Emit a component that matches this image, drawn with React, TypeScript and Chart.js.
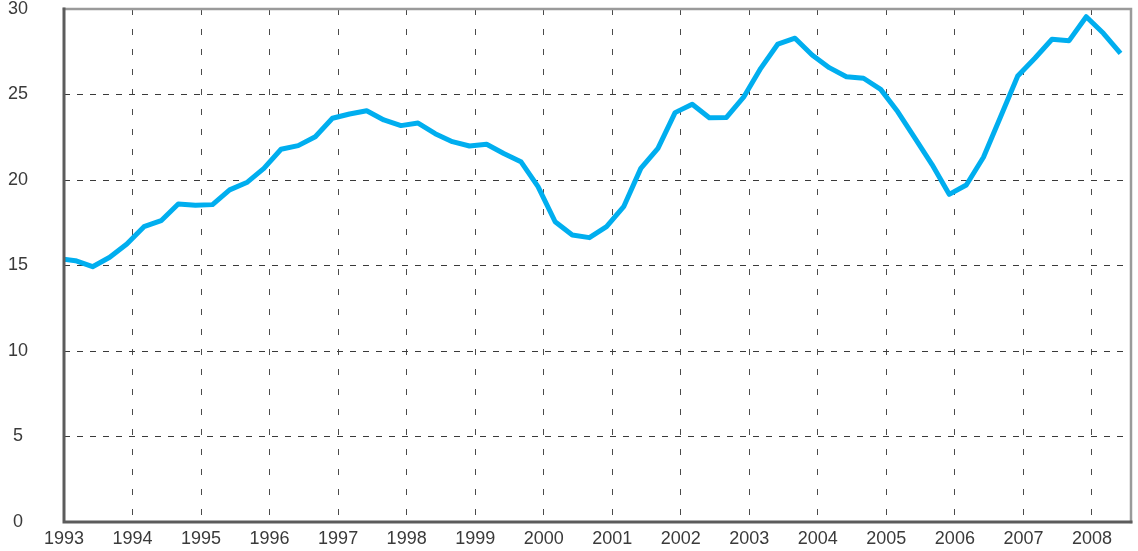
import React, { useEffect, useRef } from "react";
import { Chart, registerables } from "chart.js";

Chart.register(...registerables);

// Decimal-year positions of the quarterly observations
const dates: number[] = [
  1992.917, 1993.167, 1993.417, 1993.667, 1993.917,
  1994.167, 1994.417, 1994.667, 1994.917,
  1995.167, 1995.417, 1995.667, 1995.917,
  1996.167, 1996.417, 1996.667, 1996.917,
  1997.167, 1997.417, 1997.667, 1997.917,
  1998.167, 1998.417, 1998.667, 1998.917,
  1999.167, 1999.417, 1999.667, 1999.917,
  2000.167, 2000.417, 2000.667, 2000.917,
  2001.167, 2001.417, 2001.667, 2001.917,
  2002.167, 2002.417, 2002.667, 2002.917,
  2003.167, 2003.417, 2003.667, 2003.917,
  2004.167, 2004.417, 2004.667, 2004.917,
  2005.167, 2005.417, 2005.667, 2005.917,
  2006.167, 2006.417, 2006.667, 2006.917,
  2007.167, 2007.417, 2007.667, 2007.917,
  2008.167, 2008.417,
];

const values: number[] = [
  15.4, 15.28, 14.93, 15.48, 16.26,
  17.27, 17.62, 18.6, 18.52,
  18.56, 19.42, 19.85, 20.68,
  21.8, 22.01, 22.53, 23.61,
  23.86, 24.05, 23.51, 23.18,
  23.33, 22.71, 22.24, 21.99,
  22.09, 21.55, 21.07, 19.61,
  17.56, 16.78, 16.63, 17.27,
  18.44, 20.68, 21.85, 23.94,
  24.43, 23.64, 23.66, 24.84,
  26.53, 27.95, 28.29, 27.31,
  26.57, 26.04, 25.95, 25.3,
  23.99, 22.45, 20.9, 19.16,
  19.71, 21.33, 23.7, 26.08,
  27.12, 28.23, 28.15, 29.55,
  28.58, 27.41,
];

const yearTicks: number[] = [
  1993, 1994, 1995, 1996, 1997, 1998, 1999, 2000,
  2001, 2002, 2003, 2004, 2005, 2006, 2007, 2008,
];

const xMin = 1993;
const xMax = 2008.57;
const yMin = 0;
const yMax = 30;
const yStep = 5;

const frame = {
  id: "frame",
  afterDraw(chart: any) {
    const { ctx, chartArea } = chart;
    const { left, right, top, bottom } = chartArea;
    ctx.save();
    ctx.lineCap = "square";
    ctx.strokeStyle = "#9a9a9a";
    ctx.lineWidth = 2.5;
    ctx.beginPath();
    ctx.moveTo(left, top);
    ctx.lineTo(right, top);
    ctx.lineTo(right, bottom);
    ctx.stroke();
    ctx.strokeStyle = "#5c5c5c";
    ctx.lineWidth = 3;
    ctx.beginPath();
    ctx.moveTo(left, top);
    ctx.lineTo(left, bottom);
    ctx.lineTo(right, bottom);
    ctx.stroke();
    ctx.restore();
  },
};

export default function App() {
  const ref = useRef<HTMLCanvasElement | null>(null);

  useEffect(() => {
    if (!ref.current) return;
    const font = { family: "'Liberation Sans', Arial, sans-serif", size: 18, lineHeight: 1 };
    const chart = new Chart(ref.current, {
      type: "line",
      data: {
        datasets: [
          {
            data: dates.map((d, i) => ({ x: d, y: values[i] })),
            borderColor: "#00AEEF",
            borderWidth: 5,
            pointRadius: 0,
            tension: 0,
            fill: false,
            borderJoinStyle: "round",
          },
        ],
      },
      options: {
        animation: false,
        responsive: false,
        maintainAspectRatio: false,
        layout: { padding: { top: 0, right: 7, left: 0, bottom: 0 } },
        plugins: { legend: { display: false }, tooltip: { enabled: false } },
        scales: {
          x: {
            type: "linear",
            min: xMin,
            max: xMax,
            afterBuildTicks: (scale: any) => {
              scale.ticks = yearTicks.map((v) => ({ value: v }));
            },
            afterFit: (scale: any) => {
              scale.height = 29;
            },
            grid: { color: "#4a4a4a", lineWidth: 1, drawTicks: false },
            border: { display: false, dash: [6, 14], dashOffset: 0 },
            ticks: {
              autoSkip: false,
              maxRotation: 0,
              padding: 8,
              color: "#3a3a3a",
              font,
              callback: (v: any) => String(v),
            },
          },
          y: {
            min: yMin,
            max: yMax,
            afterFit: (scale: any) => {
              scale.width = 64;
            },
            grid: {
              color: "#3a3a3a",
              lineWidth: 1,
              drawTicks: true,
              tickLength: 36,
              tickColor: "rgba(0,0,0,0)",
            },
            border: { display: false, dash: [6, 7] },
            ticks: {
              stepSize: yStep,
              padding: 0,
              crossAlign: "center",
              color: "#3a3a3a",
              font,
            },
          },
        },
      },
      plugins: [frame],
    } as any);
    return () => chart.destroy();
  }, []);

  return (
    <div style={{ position: "fixed", left: 0, top: 0, width: 1138, height: 551, background: "#fff" }}>
      <canvas ref={ref} width={1138} height={551} style={{ width: 1138, height: 551 }} />
    </div>
  );
}
